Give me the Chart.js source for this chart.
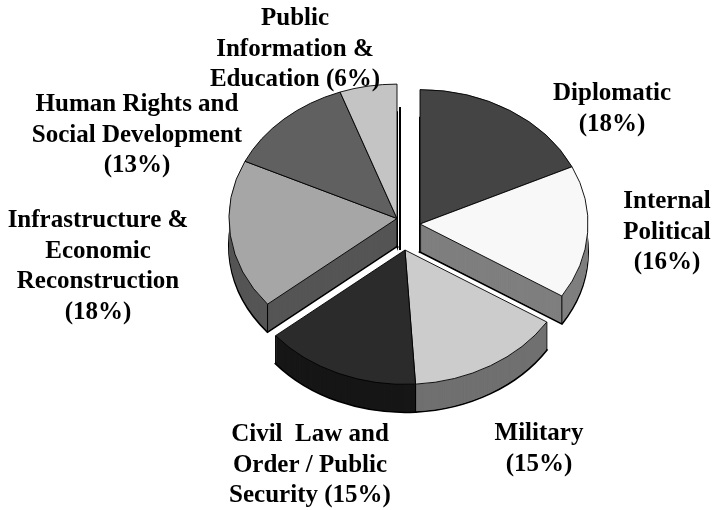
<!DOCTYPE html>
<html><head><meta charset="utf-8">
<style>html,body{margin:0;padding:0;background:#fff}canvas{display:block}</style>
<script src="https://cdn.jsdelivr.net/npm/chart.js@4"></script>
</head><body><canvas id="c" width="714" height="510"></canvas>
<script>
const categories = ["Diplomatic","Internal Political","Military","Civil Law and Order / Public Security","Infrastructure & Economic Reconstruction","Human Rights and Social Development","Public Information & Education"];
const values = [18,16,15,15,18,12.5,5.5];
const topColors = ["#444444","#f8f8f8","#cccccc","#2b2b2b","#a6a6a6","#606060","#c4c4c4"];
const sideColors = ["#222222","#7f7f7f","#707070","#161616","#555555","#303030","#626262"];
const labelLines = [
  ["Diplomatic","(18%)"],
  ["Internal","Political","(16%)"],
  ["Military","(15%)"],
  ["Civil  Law and","Order / Public","Security (15%)"],
  ["Infrastructure &","Economic","Reconstruction","(18%)"],
  ["Human Rights and","Social Development","(13%)"],
  ["Public","Information &","Education (6%)"]
];
const labelAnchors = [[612,100],[667,208],[539,440],[310,441],[98,227],[137,111],[295,25]];
const groups = [
  {slices:[4,5,6], x:397, y:218.5},
  {slices:[0,1],   x:420, y:224},
  {slices:[2,3],   x:405, y:250}
];
const squash = 0.8, depth = 28, radius = 168;

function withOpts(arc, fill, stroke, width, draw){
  const saved = arc.options;
  arc.options = {backgroundColor:fill,borderColor:stroke,borderWidth:width,borderAlign:'center',
    borderJoinStyle:'miter',borderDash:[],borderDashOffset:0,borderRadius:0,offset:0,spacing:0,circular:true};
  draw();
  arc.options = saved;
}
function place(ctx, arc, g, dy){
  ctx.translate(g.x, g.y + dy);
  ctx.scale(1, squash);
  ctx.translate(-arc.x, -arc.y);
}
const pie3d = {
  id:'pie3d',
  beforeDatasetDraw(chart){
    const ctx = chart.ctx, arcs = chart.getDatasetMeta(0).data;
    groups.forEach(g=>{
      g.slices.forEach(i=>{
        ctx.save(); place(ctx, arcs[i], g, depth);
        withOpts(arcs[i], sideColors[i], '#000', 2, ()=>arcs[i].draw(ctx));
        ctx.restore();
      });
      for(let d=depth-1;d>=1;d--){
        g.slices.forEach(i=>{
          ctx.save(); place(ctx, arcs[i], g, d);
          withOpts(arcs[i], sideColors[i], sideColors[i], 0, ()=>arcs[i].draw(ctx));
          ctx.restore();
        });
      }
      ctx.save(); ctx.strokeStyle='#000'; ctx.lineWidth=1;
      const edge=(x,y)=>{ctx.beginPath();ctx.moveTo(x,y);ctx.lineTo(x,y+depth);ctx.stroke();};
      edge(g.x,g.y);
      g.slices.forEach(i=>{
        [arcs[i].startAngle,arcs[i].endAngle].forEach(a=>{
          if(Math.sin(a)>0) edge(g.x+arcs[i].outerRadius*Math.cos(a), g.y+squash*arcs[i].outerRadius*Math.sin(a));
        });
      });
      ctx.restore();
      g.slices.forEach(i=>{
        ctx.save(); place(ctx, arcs[i], g, 0);
        withOpts(arcs[i], topColors[i], '#000', 1, ()=>arcs[i].draw(ctx));
        ctx.restore();
      });
    });
    ctx.save(); ctx.strokeStyle='#000'; ctx.lineWidth=2;
    ctx.beginPath(); ctx.moveTo(400,107); ctx.lineTo(400,250); ctx.stroke(); ctx.restore();
    return false;
  },
  afterDraw(chart){
    const ctx = chart.ctx;
    ctx.save();
    ctx.font = 'bold 25px "Liberation Serif"';
    ctx.fillStyle='#000'; ctx.textAlign='center'; ctx.textBaseline='alphabetic';
    labelLines.forEach((lines,i)=>lines.forEach((t,k)=>ctx.fillText(t,labelAnchors[i][0],labelAnchors[i][1]+k*30.5)));
    ctx.restore();
  }
};
new Chart(document.getElementById('c'),{
  type:'pie',
  data:{labels:categories,datasets:[{data:values,backgroundColor:topColors,borderColor:'#000',borderWidth:1,radius:radius}]},
  options:{responsive:false,animation:false,events:[],layout:{padding:0},
    plugins:{legend:{display:false},tooltip:{enabled:false},title:{display:false}}},
  plugins:[pie3d]
});
</script></body></html>
